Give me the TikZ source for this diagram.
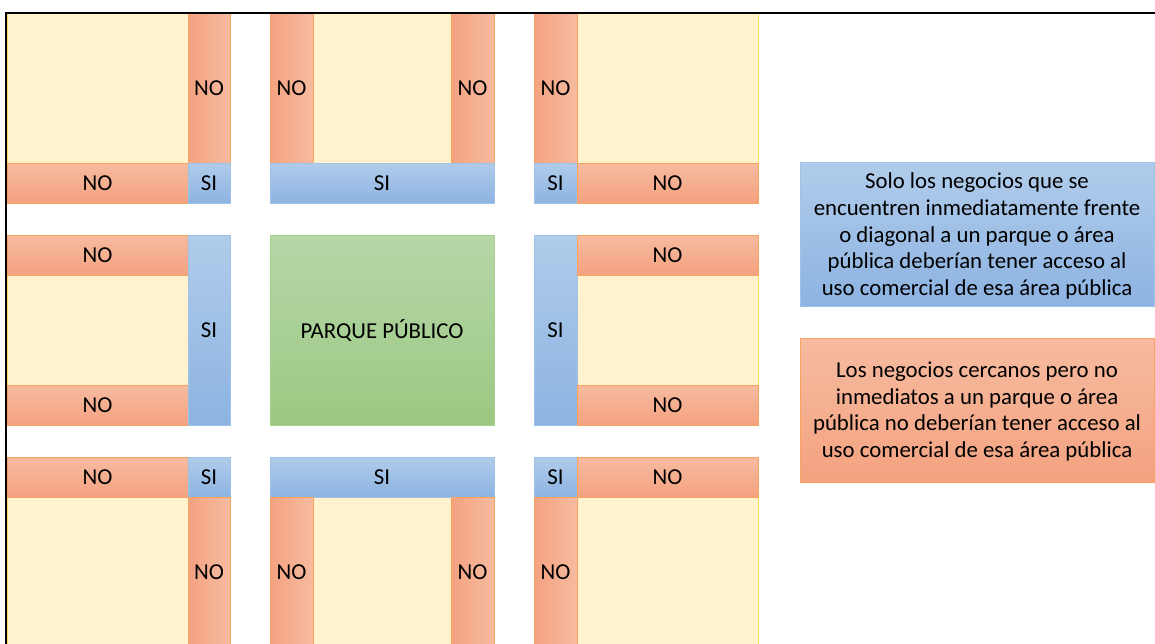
\documentclass[tikz,border=0pt]{standalone}
\usepackage{fontspec}
\setmainfont{Carlito}
\definecolor{ordark}{HTML}{F4A280}
\definecolor{orlight}{HTML}{F6BBA0}
\definecolor{orline}{HTML}{F8A45E}
\definecolor{bllight}{HTML}{B0CCEA}
\definecolor{bldark}{HTML}{8DB3E2}
\definecolor{blline}{HTML}{9DC3E6}
\definecolor{grlight}{HTML}{B6D7A8}
\definecolor{grdark}{HTML}{9BC882}
\definecolor{grline}{HTML}{A9D18E}
\definecolor{yel}{HTML}{FFF2CC}
\definecolor{yelline}{HTML}{FFD966}
\tikzset{
  base/.style={rectangle, inner sep=0pt, outer sep=0pt, anchor=north west, line width=0.8pt,
    font=\fontsize{22.8}{27}\selectfont, text=black},
  sz/.style 2 args={minimum width=#1pt, minimum height=#2pt},
  nov/.style={base, left color=ordark, right color=orlight, draw=orline},
  noh/.style={base, top color=orlight, bottom color=ordark, draw=orline},
  sib/.style={base, top color=bllight, bottom color=bldark, draw=blline},
  lot/.style={base, fill=yel, draw=yelline},
  parkbox/.style={base, top color=grlight, bottom color=grdark, draw=grline},
  note/.style={align=center, font=\fontsize{22.8}{26.75}\selectfont},
}
\begin{document}
\begin{tikzpicture}[x=1pt,y=-1pt]
\useasboundingbox (0,0) rectangle (1155,643);
\clip (0,0) rectangle (1155,643);
% ---------- top row ----------
\node[lot, sz={181}{150}] (l1) at (7,13) {};
\node[nov, sz={42}{150}] (a1) at (188,13) {NO};
\node[noh, sz={181}{40}] (a2) at (7,163) {NO};
\node[sib, sz={42}{40}] (a3) at (188,163) {SI};

\node[lot, sz={138}{150}] (l2) at (313,13) {};
\node[nov, sz={43}{150}] (b1) at (270,13) {NO};
\node[nov, sz={43}{150}] (b2) at (451,13) {NO};
\node[sib, sz={224}{40}] (b3) at (270,163) {SI};

\node[lot, sz={181}{150}] (l3) at (577,13) {};
\node[nov, sz={43}{150}] (c1) at (534,13) {NO};
\node[sib, sz={43}{40}] (c2) at (534,163) {SI};
\node[noh, sz={181}{40}] (c3) at (577,163) {NO};
% ---------- middle row ----------
\node[lot, sz={181}{110}] (l4) at (7,275) {};
\node[noh, sz={181}{40}] (d1) at (7,235) {NO};
\node[noh, sz={181}{40}] (d2) at (7,385) {NO};
\node[sib, sz={42}{190}] (d3) at (188,235) {SI};

\node[parkbox, sz={224}{190}] (park) at (270,235) {PARQUE PÚBLICO};

\node[lot, sz={181}{110}] (l5) at (577,275) {};
\node[sib, sz={43}{190}] (e1) at (534,235) {SI};
\node[noh, sz={181}{40}] (e2) at (577,235) {NO};
\node[noh, sz={181}{40}] (e3) at (577,385) {NO};
% ---------- bottom row ----------
\node[lot, sz={181}{150}] (l6) at (7,497) {};
\node[noh, sz={181}{40}] (f1) at (7,457) {NO};
\node[sib, sz={42}{40}] (f2) at (188,457) {SI};
\node[nov, sz={42}{150}] (f3) at (188,497) {NO};

\node[lot, sz={138}{150}] (l7) at (313,497) {};
\node[sib, sz={224}{40}] (g1) at (270,457) {SI};
\node[nov, sz={43}{150}] (g2) at (270,497) {NO};
\node[nov, sz={43}{150}] (g3) at (451,497) {NO};

\node[lot, sz={181}{150}] (l8) at (577,497) {};
\node[sib, sz={43}{40}] (h1) at (534,457) {SI};
\node[noh, sz={181}{40}] (h2) at (577,457) {NO};
\node[nov, sz={43}{150}] (h3) at (534,497) {NO};
% ---------- notes ----------
\node[sib, sz={354}{144}] (n1) at (800,162) {};
\node[note] (n1t) at ([yshift=-2pt]n1.center)
  {Solo los negocios que se\\encuentren inmediatamente frente\\o diagonal a un parque o área\\pública deberían tener acceso al\\uso comercial de esa área pública};
\node[noh, sz={354}{144}] (n2) at (800,338) {};
\node[note] (n2t) at ([yshift=-1.5pt]n2.center)
  {Los negocios cercanos pero no\\inmediatos a un parque o área\\pública no deberían tener acceso al\\uso comercial de esa área pública};
% ---------- frame ----------
\draw[line width=2pt, black] (6,650) -- (6,13) -- (1160,13);
\end{tikzpicture}
\end{document}
